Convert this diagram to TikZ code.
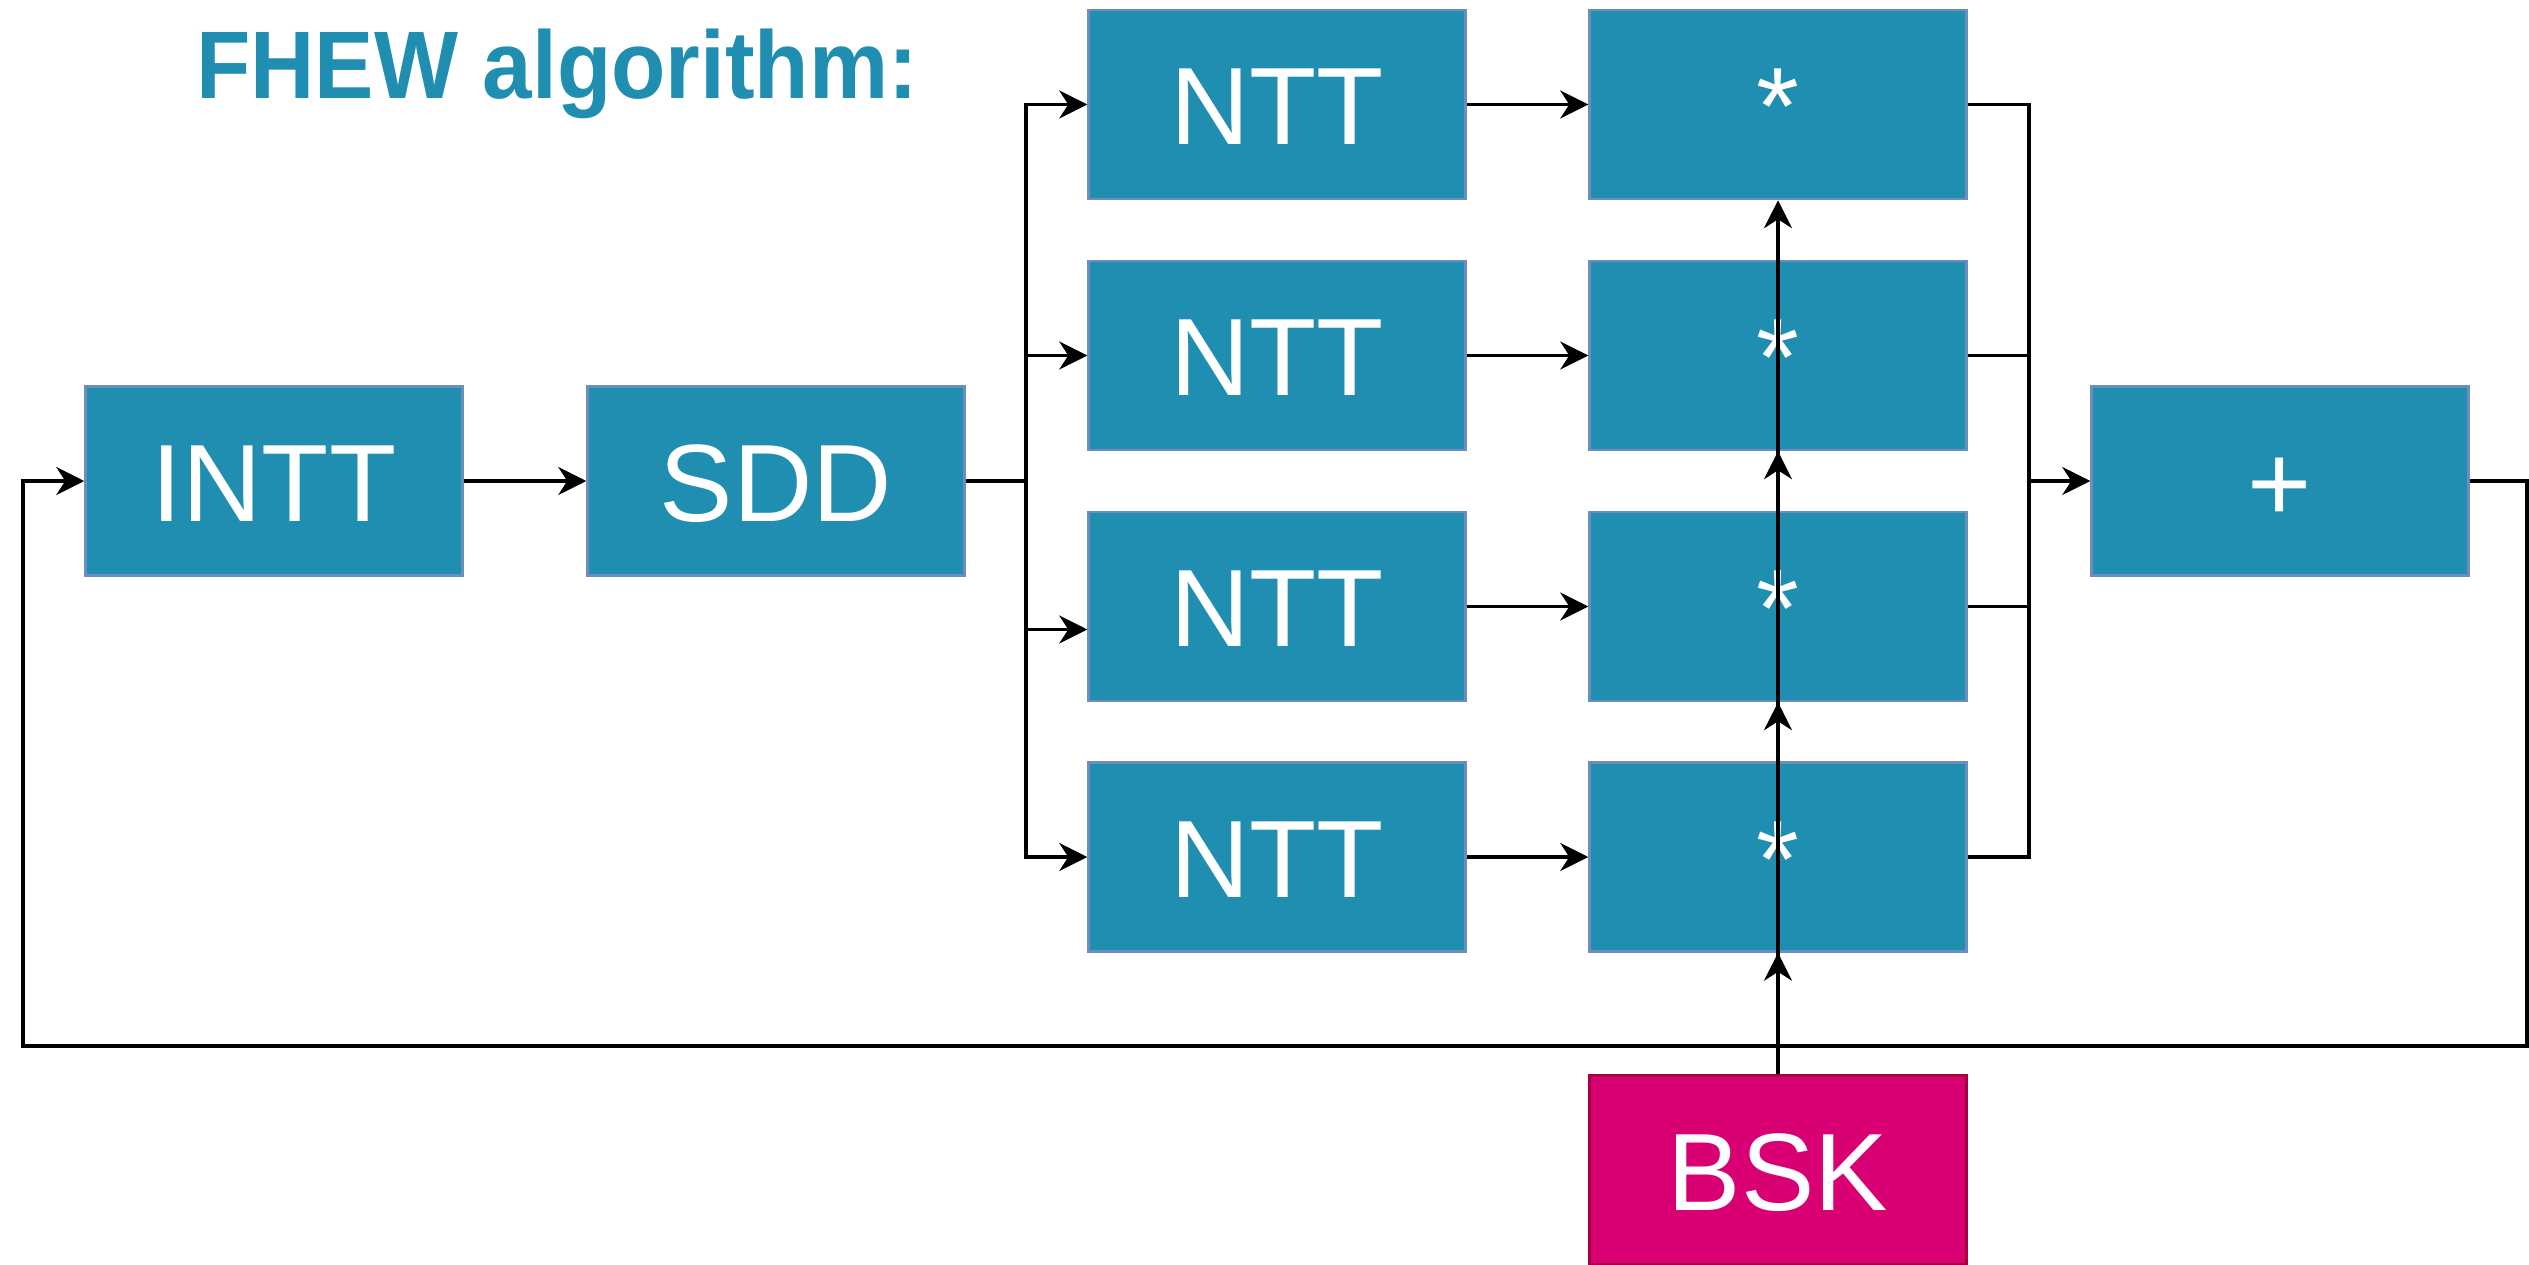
\documentclass[tikz,border=0pt]{standalone}
\usepackage{fontspec}
\setmainfont{Liberation Sans}
\usetikzlibrary{arrows.meta}
\definecolor{boxblue}{HTML}{208EB1}
\definecolor{boxedge}{HTML}{6C8EBF}
\definecolor{keyfill}{HTML}{D80073}
\definecolor{keyedge}{HTML}{A50040}
\tikzset{
  block/.style={rectangle, fill=boxblue, draw=boxedge, line width=2.5pt,
    minimum width=377pt, minimum height=189pt, inner sep=0pt,
    text=white, font=\fontsize{110}{110}\selectfont,
    text height=80pt, text depth=0pt},
  keyblock/.style={block, fill=keyfill, draw=keyedge},
  wire/.style={line width=3.3pt, draw=black},
  arr/.style={wire, -{Stealth[length=28pt, width=28pt, inset=9pt]}},
}
\begin{document}
\begin{tikzpicture}[x=1pt, y=-1pt]
  \useasboundingbox (0,0) rectangle (2529,1265);
  \fill[white] (0,0) rectangle (2529,1265);

  % heading
  \node[anchor=base west, inner sep=0pt, text=boxblue,
        font=\fontsize{96}{96}\selectfont\bfseries] (title) at (196,99)
        {\scalebox{0.927}[1]{FHEW algorithm:}};

  % processing blocks
  \node[block] (intt) at (274,481) {INTT};
  \node[block] (sdd)  at (776,481) {SDD};
  \node[block] (ntt1) at (1277,104.5) {NTT};
  \node[block] (ntt2) at (1277,355.5) {NTT};
  \node[block] (ntt3) at (1277,606.5) {NTT};
  \node[block] (ntt4) at (1277,857) {NTT};
  \node[block] (mul1) at (1778,104.5) {*};
  \node[block] (mul2) at (1778,355.5) {*};
  \node[block] (mul3) at (1778,606.5) {*};
  \node[block] (mul4) at (1778,857) {*};
  \node[block] (plus) at (2280,481) {+};
  \node[keyblock] (bsk) at (1778,1170) {BSK};

  % junction points
  \coordinate (split) at (1026,481);
  \coordinate (merge) at (2029,481);
  \coordinate (loopR) at (2527,1046);
  \coordinate (loopL) at (23,1046);

  % INTT -> SDD
  \draw[arr] (intt.east) -- (sdd.west);

  % fan-out to the NTT blocks
  \draw[wire] (sdd.east) -- (split);
  \draw[arr] (split) |- (ntt1.west);
  \draw[arr] (split) |- (ntt2.west);
  \draw[arr] (split) |- ([yshift=-23pt]ntt3.west);
  \draw[arr] (split) |- (ntt4.west);

  % NTT -> multiply
  \draw[arr] (ntt1.east) -- (mul1.west);
  \draw[arr] (ntt2.east) -- (mul2.west);
  \draw[arr] (ntt3.east) -- (mul3.west);
  \draw[arr] (ntt4.east) -- (mul4.west);

  % fan-in to the adder
  \draw[wire] (mul1.east) -| (merge);
  \draw[wire] (mul4.east) -| (merge);
  \draw[wire] (mul2.east) -- (mul2.east -| merge);
  \draw[wire] (mul3.east) -- (mul3.east -| merge);
  \draw[arr] (merge) -- (plus.west);

  % feedback loop
  \draw[arr] (plus.east) -| (loopR) -- (loopL) |- (intt.west);

  % bootstrapping key feeds every multiplier
  \draw[arr] (bsk.north) -- (mul1.south);
  \draw[arr] (bsk.north) -- (mul2.south);
  \draw[arr] (bsk.north) -- (mul3.south);
  \draw[arr] (bsk.north) -- (mul4.south);
\end{tikzpicture}
\end{document}
